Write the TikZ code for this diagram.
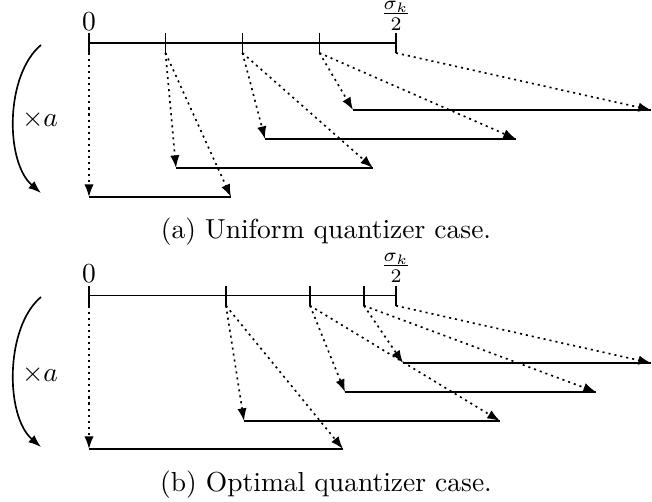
\documentclass[tikz,border=0pt]{standalone}
\usetikzlibrary{arrows.meta}
\begin{document}
\begin{tikzpicture}[x=0.3637pt,y=-0.3637pt,
  axisline/.style={line width=0.55pt},
  tickline/.style={line width=0.55pt},
  interval/.style={line width=0.6pt},
  maparrow/.style={dash pattern=on 0.75pt off 1.45pt,line width=0.6pt,-{Latex[length=4.6pt,width=3.4pt]}},
  scalearrow/.style={line width=0.6pt,-{Latex[length=4.6pt,width=3.4pt]}},
  lbl/.style={inner sep=0pt},
  caption/.style={inner sep=0pt,font=\normalsize}]
\useasboundingbox (0,0) rectangle (652,502);

% ---------- (a) uniform ----------
\foreach \n/\x in {0/89,1/165.5,2/242.5,3/319.5,4/396}{
  \coordinate (at\n) at (\x,33);
  \coordinate (ab\n) at (\x,53);
  \draw[tickline] (at\n) -- (ab\n);
}
\coordinate (aL) at (89,43);
\coordinate (aR) at (396,43);
\draw[axisline] (aL) -- (aR);
\node[lbl] (a0) at (89,21.7) {$0$};
\node[lbl] (asig) at (396,15.5) {$\frac{\sigma_k}{2}$};

\coordinate (a1l) at (89,197);  \coordinate (a1r) at (231,197);
\coordinate (a2l) at (176,168); \coordinate (a2r) at (373,168);
\coordinate (a3l) at (265,139); \coordinate (a3r) at (516,139);
\coordinate (a4l) at (353,110); \coordinate (a4r) at (651,110);
\foreach \i in {1,2,3,4}{\draw[interval] (a\i l) -- (a\i r);}

\draw[maparrow] (ab0) -- (a1l);
\draw[maparrow] (ab1) -- (a2l);
\draw[maparrow] (ab1) -- (a1r);
\draw[maparrow] (ab2) -- (a3l);
\draw[maparrow] (ab2) -- (a2r);
\draw[maparrow] (ab3) -- (a4l);
\draw[maparrow] (ab3) -- (a3r);
\draw[maparrow] (ab4) -- (a4r);

\coordinate (acs) at (41,45);
\coordinate (ace) at (41,193);
\draw[scalearrow] (acs) .. controls (5,75) and (5,162) .. (ace);
\node[lbl] (axa) at (40,120) {$\times a$};
\node[caption] (capa) at (326,232) {(a) Uniform quantizer case.};

% ---------- (b) optimal ----------
\foreach \n/\x in {0/89,1/226,2/310,3/364,4/396}{
  \coordinate (bt\n) at (\x,285.7);
  \coordinate (bb\n) at (\x,305.7);
  \draw[tickline] (bt\n) -- (bb\n);
}
\coordinate (bL) at (89,295.7);
\coordinate (bR) at (396,295.7);
\draw[axisline] (bL) -- (bR);
\node[lbl] (b0) at (89,273.5) {$0$};
\node[lbl] (bsig) at (396,267.5) {$\frac{\sigma_k}{2}$};

\coordinate (b1l) at (89,449);  \coordinate (b1r) at (343,449);
\coordinate (b2l) at (244,421); \coordinate (b2r) at (500,421);
\coordinate (b3l) at (345,392); \coordinate (b3r) at (596,392);
\coordinate (b4l) at (403,363); \coordinate (b4r) at (651,363);
\foreach \i in {1,2,3,4}{\draw[interval] (b\i l) -- (b\i r);}

\draw[maparrow] (bb0) -- (b1l);
\draw[maparrow] (bb1) -- (b2l);
\draw[maparrow] (bb1) -- (b1r);
\draw[maparrow] (bb2) -- (b3l);
\draw[maparrow] (bb2) -- (b2r);
\draw[maparrow] (bb3) -- (b4l);
\draw[maparrow] (bb3) -- (b3r);
\draw[maparrow] (bb4) -- (b4r);

\coordinate (bcs) at (41,297);
\coordinate (bce) at (41,447);
\draw[scalearrow] (bcs) .. controls (5,327) and (5,416) .. (bce);
\node[lbl] (bxa) at (40,375) {$\times a$};
\node[caption] (capb) at (326,485) {(b) Optimal quantizer case.};
\end{tikzpicture}
\end{document}
